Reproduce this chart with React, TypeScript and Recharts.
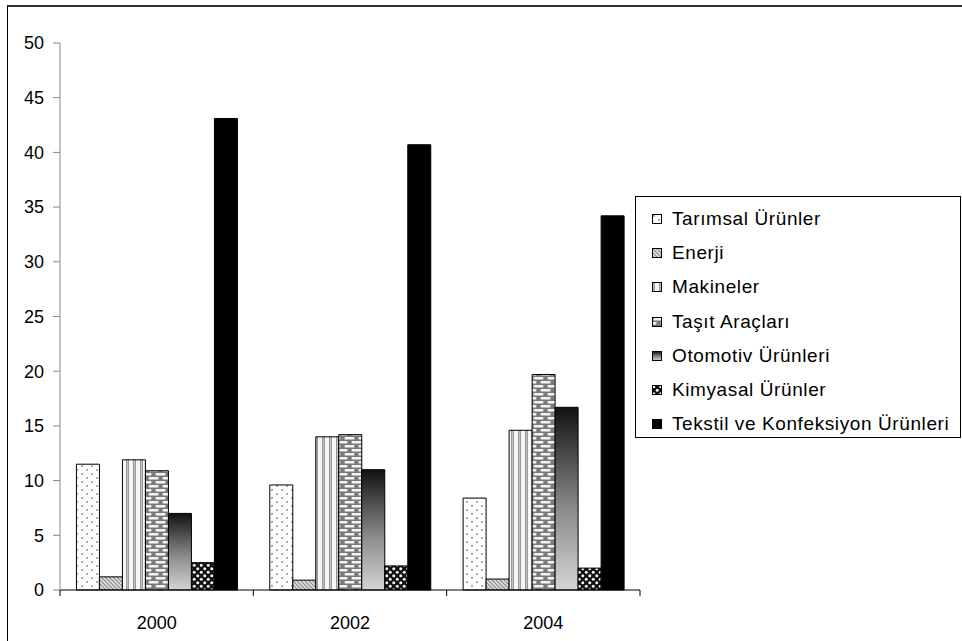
import React from 'react';
import { BarChart, Bar, XAxis, YAxis, Legend } from 'recharts';

const categories = ['2000', '2002', '2004'];
const tarimsal = [11.5, 9.6, 8.4];
const enerji = [1.2, 0.9, 1.0];
const makineler = [11.9, 14.0, 14.6];
const tasit = [10.9, 14.2, 19.7];
const otomotiv = [7.0, 11.0, 16.7];
const kimyasal = [2.5, 2.2, 2.0];
const tekstil = [43.1, 40.7, 34.2];
const yTicks = [0, 5, 10, 15, 20, 25, 30, 35, 40, 45, 50];

const seriesNames = [
  'Tarımsal Ürünler',
  'Enerji',
  'Makineler',
  'Taşıt Araçları',
  'Otomotiv Ürünleri',
  'Kimyasal Ürünler',
  'Tekstil ve Konfeksiyon Ürünleri',
];
const seriesValues = [tarimsal, enerji, makineler, tasit, otomotiv, kimyasal, tekstil];
const seriesFills = [
  'url(#pDots)',
  'url(#pDiag)',
  'url(#pVert)',
  'url(#pBrick)',
  'url(#gOto)',
  'url(#pCheck)',
  '#000000',
];

const data = categories.map((c, i) => {
  const row: Record<string, any> = { year: c };
  seriesNames.forEach((n, k) => {
    row['s' + k] = seriesValues[k][i];
  });
  return row;
});

const FONT = '"Liberation Sans", Arial, sans-serif';

const XTick = (props: any) => {
  const { x, y, payload, index, visibleTicksCount } = props;
  const off = payload && typeof payload.offset === 'number' ? payload.offset : 96.7;
  const last = index === visibleTicksCount - 1;
  return (
    <g>
      <line x1={x - off} y1={y} x2={x - off} y2={y + 6} stroke="#000" strokeWidth={1} />
      {last && <line x1={x + off} y1={y} x2={x + off} y2={y + 6} stroke="#000" strokeWidth={1} />}
      <text x={x} y={y + 39} textAnchor="middle" fontSize={18} fill="#000" fontFamily={FONT}>
        {payload.value}
      </text>
    </g>
  );
};

const LegendContent = () => (
  <div
    style={{
      boxSizing: 'border-box',
      width: 326,
      height: 242,
      border: '1px solid #000',
      background: '#fff',
      paddingTop: 5,
      fontFamily: FONT,
      textAlign: 'left',
    }}
  >
    {seriesNames.map((n, k) => (
      <div key={n} style={{ height: 34.2, display: 'flex', alignItems: 'center' }}>
        <svg width={10} height={10} style={{ marginLeft: 16, marginRight: 10, flex: 'none' }}>
          <rect x={0.5} y={0.5} width={9} height={9} fill={seriesFills[k]} stroke="#000" strokeWidth={1} />
        </svg>
        <span style={{ fontSize: 19, color: '#000', whiteSpace: 'nowrap', letterSpacing: 0.6 }}>{n}</span>
      </div>
    ))}
  </div>
);

export default function App() {
  return (
    <div style={{ position: 'absolute', left: 0, top: 0, width: 962, height: 641, overflow: 'hidden', background: '#fff' }}>
      <div
        style={{
          position: 'absolute',
          left: 7,
          top: 5,
          width: 1200,
          height: 1200,
          borderLeft: '1px solid #000',
          borderTop: '2px solid #333',
        }}
      />
      <BarChart
        width={962}
        height={641}
        data={data}
        margin={{ top: 43, right: 322, bottom: 0, left: 0 }}
        barCategoryGap="8.5%"
        barGap={0}
        style={{ position: 'absolute', left: 0, top: 0, fontFamily: FONT }}
      >
        <defs>
          <pattern id="pDots" width="10" height="8" patternUnits="userSpaceOnUse">
            <rect width="10" height="8" fill="#fff" />
            <circle cx="2" cy="2" r="0.8" fill="#444" />
            <circle cx="7" cy="6" r="0.8" fill="#444" />
          </pattern>
          <pattern id="pDiag" width="4" height="4" patternUnits="userSpaceOnUse">
            <rect width="4" height="4" fill="#e0e0e0" />
            <path d="M-1,-1 L5,5 M-1,3 L1,5 M3,-1 L5,1" stroke="#8a8a8a" strokeWidth="1.2" />
          </pattern>
          <pattern id="pVert" width="7" height="7" patternUnits="userSpaceOnUse">
            <rect width="7" height="7" fill="#f6f6f6" />
            <rect x="0" width="3" height="7" fill="#9a9a9a" />
            <rect x="1" width="1" height="7" fill="#c0c0c0" />
          </pattern>
          <pattern id="pBrick" width="14" height="8" patternUnits="userSpaceOnUse">
            <rect width="14" height="8" fill="#7a7a7a" />
            <rect x="1.5" y="1" width="10" height="2.5" rx="1" fill="#f4f4f4" />
            <rect x="-5.5" y="5" width="10" height="2.5" rx="1" fill="#f4f4f4" />
            <rect x="8.5" y="5" width="10" height="2.5" rx="1" fill="#f4f4f4" />
          </pattern>
          <linearGradient id="gOto" x1="0" y1="0" x2="0" y2="1">
            <stop offset="0%" stopColor="#111" />
            <stop offset="55%" stopColor="#8a8a8a" />
            <stop offset="100%" stopColor="#d4d4d4" />
          </linearGradient>
          <pattern id="pCheck" width="7" height="7" patternUnits="userSpaceOnUse">
            <rect width="7" height="7" fill="#111" />
            <circle cx="1.75" cy="1.75" r="1.5" fill="#f4f4f4" />
            <circle cx="5.25" cy="5.25" r="1.5" fill="#f4f4f4" />
          </pattern>
        </defs>
        <XAxis
          dataKey="year"
          stroke="#000"
          tickLine={false}
          tickSize={0}
          tickMargin={0}
          height={51}
          tick={<XTick />}
          interval={0}
        />
        <YAxis
          domain={[0, 50]}
          ticks={yTicks}
          width={60}
          stroke="#888"
          tickSize={7}
          tickMargin={9}
          tickLine={{ stroke: '#888' }}
          tick={{ fill: '#000', fontSize: 18, fontFamily: FONT }}
          interval={0}
        />
        <Legend
          layout="horizontal"
          align="center"
          verticalAlign="middle"
          content={<LegendContent />}
          wrapperStyle={{ position: 'absolute', left: 635, top: 196, width: 326, height: 242 }}
        />
        {seriesNames.map((n, k) => (
          <Bar
            key={n}
            dataKey={'s' + k}
            name={n}
            fill={seriesFills[k]}
            stroke="#000"
            strokeWidth={1}
            isAnimationActive={false}
          />
        ))}
      </BarChart>
    </div>
  );
}
